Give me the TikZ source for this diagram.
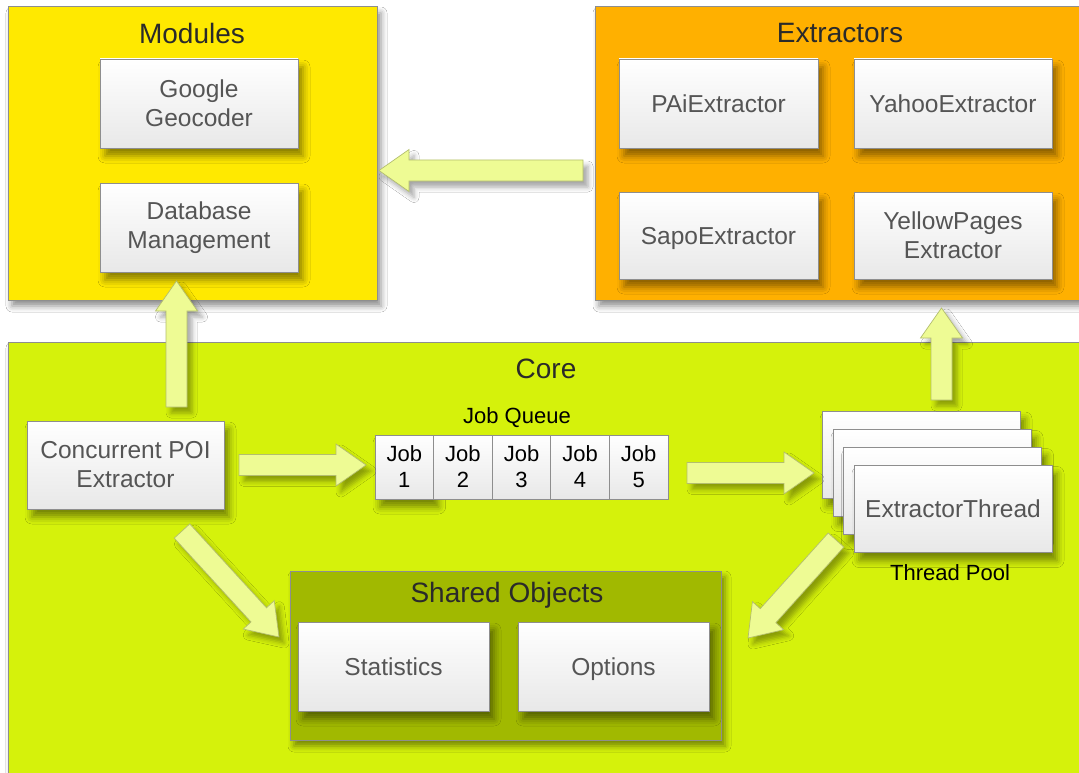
\documentclass[tikz,border=0pt]{standalone}
\usepackage{fontspec}
\setmainfont{Liberation Sans}
\usetikzlibrary{calc,shadows.blur}
\definecolor{modY}{HTML}{FFE900}
\definecolor{extO}{HTML}{FFB000}
\definecolor{coreG}{HTML}{D5F20B}
\definecolor{shO}{HTML}{A1B900}
\definecolor{arrF}{HTML}{EEFB94}
\definecolor{arrD}{HTML}{B3BE6E}
\definecolor{boxD}{HTML}{8E8E8E}
\definecolor{txtG}{HTML}{555555}
\definecolor{ttlG}{HTML}{2A2A2A}
\newcommand{\boxfont}{\fontsize{24.5}{29}\selectfont}
\newcommand{\ttlfont}{\fontsize{28}{32}\selectfont}
\newcommand{\lblfont}{\fontsize{22}{26}\selectfont}
\newcommand{\fatarrow}[2]{%
  \coordinate (#1h) at ($(#2)!30pt!(#1)$);
  \draw[fatarr] ($(#1)!10.5pt!90:(#2)$) -- ($(#1h)!10.5pt!90:(#2)$) -- ($(#1h)!21pt!90:(#2)$) -- (#2)
     -- ($(#1h)!21pt!-90:(#2)$) -- ($(#1h)!10.5pt!-90:(#2)$) -- ($(#1)!10.5pt!-90:(#2)$) -- cycle;}
\tikzset{
  container/.style={draw=boxD, line width=1pt, inner sep=0pt,
    blur shadow={shadow xshift=4pt, shadow yshift=-6pt, shadow blur radius=6pt, shadow opacity=45}},
  wbox/.style={draw=boxD, line width=0.9pt, top color=white, bottom color=black!9, text=txtG,
    font=\boxfont, align=center, inner sep=0pt,
    blur shadow={shadow xshift=5pt, shadow yshift=-8pt, shadow blur radius=7pt, shadow opacity=45}},
  oneline/.style={text height=17.5pt, text depth=0pt},
  jobcell/.style={draw=boxD, line width=0.9pt, top color=white, bottom color=black!9, text=black,
    font=\lblfont, align=center, inner sep=0pt, minimum width=58.6pt, minimum height=64pt},
  title/.style={text=ttlG, font=\ttlfont, inner sep=0pt},
  label/.style={text=black, font=\lblfont, inner sep=0pt},
  fatarr/.style={fill=arrF, draw=arrD, line width=0.7pt, line join=miter,
    blur shadow={shadow xshift=5pt, shadow yshift=-6pt, shadow blur radius=5pt, shadow opacity=35}}
}
\begin{document}
\begin{tikzpicture}[x=1pt,y=-1pt]
\clip (0,0) rectangle (1079,773);
\fill[white] (0,0) rectangle (1079,773);
% containers
\node[container, fill=modY, minimum width=369pt, minimum height=293pt] (modules) at (192.5,153.5) {};
\node[title] (modulesT) at (192,33) {Modules};
\node[container, fill=extO, minimum width=490pt, minimum height=293pt] (extractors) at (840,153.5) {};
\node[title] (extractorsT) at (840,33) {Extractors};
\node[container, fill=coreG, minimum width=1082pt, minimum height=443pt] (core) at (549,563.5) {};
\node[title] (coreT) at (546,369) {Core};
% modules content
\node[wbox, minimum width=198pt, minimum height=89pt] (geo) at (199,103.5) {Google\\Geocoder};
\node[wbox, minimum width=198pt, minimum height=89pt] (db) at (199,227.5) {Database\\Management};
% extractors content
\node[wbox, oneline, minimum width=199pt, minimum height=89pt] (pai) at (718.5,103.5) {PAiExtractor};
\node[wbox, oneline, minimum width=198pt, minimum height=89pt] (yahoo) at (953,103.5) {YahooExtractor};
\node[wbox, oneline, minimum width=199pt, minimum height=87pt] (sapo) at (718.5,235.5) {SapoExtractor};
\node[wbox, minimum width=198pt, minimum height=87pt] (yp) at (953,235.5) {YellowPages\\Extractor};
% core content
\node[wbox, minimum width=197pt, minimum height=88pt] (conc) at (125.5,465) {Concurrent POI\\Extractor};
\node[label] (jqT) at (517,418) {Job Queue};
\node[jobcell, blur shadow={shadow xshift=5pt, shadow yshift=-8pt, shadow blur radius=7pt, shadow opacity=45}] (j1) at (404.3,467) {Job\\1};
\node[jobcell] (j2) at (462.9,467) {Job\\2};
\node[jobcell] (j3) at (521.5,467) {Job\\3};
\node[jobcell] (j4) at (580.1,467) {Job\\4};
\node[jobcell] (j5) at (638.7,467) {Job\\5};
\node[wbox, minimum width=198pt, minimum height=87pt] (tp1) at (921,454.5) {};
\node[wbox, minimum width=198pt, minimum height=87pt] (tp2) at (932,473) {};
\node[wbox, minimum width=198pt, minimum height=87pt] (tp3) at (942.5,491) {};
\node[wbox, oneline, minimum width=198pt, minimum height=87pt] (tp4) at (953,509) {ExtractorThread};
\node[label] (tpT) at (950,573) {Thread Pool};
% shared objects
\node[container, fill=shO, minimum width=431pt, minimum height=169pt] (shared) at (505.5,655.5) {};
\node[title] (sharedT) at (507,595) {Shared Objects};
\node[wbox, oneline, minimum width=191pt, minimum height=89pt] (stats) at (393.5,666.5) {Statistics};
\node[wbox, oneline, minimum width=191pt, minimum height=89pt] (opts) at (613.5,666.5) {Options};
% arrow end points
\coordinate (a1s) at (583,170.5);   \coordinate (a1e) at (379,170.5);
\coordinate (a2s) at (176.5,407);   \coordinate (a2e) at (176.5,281);
\coordinate (a3s) at (239,465);     \coordinate (a3e) at (366,465);
\coordinate (a4s) at (687,473);     \coordinate (a4e) at (814,473);
\coordinate (a5s) at (941.5,400);   \coordinate (a5e) at (941.5,308);
\coordinate (a6s) at (182,531);     \coordinate (a6e) at (279,637);
\coordinate (a7s) at (836,540);     \coordinate (a7e) at (748,638);
\fatarrow{a1s}{a1e}
\fatarrow{a2s}{a2e}
\fatarrow{a3s}{a3e}
\fatarrow{a4s}{a4e}
\fatarrow{a5s}{a5e}
\fatarrow{a6s}{a6e}
\fatarrow{a7s}{a7e}
\end{tikzpicture}
\end{document}
